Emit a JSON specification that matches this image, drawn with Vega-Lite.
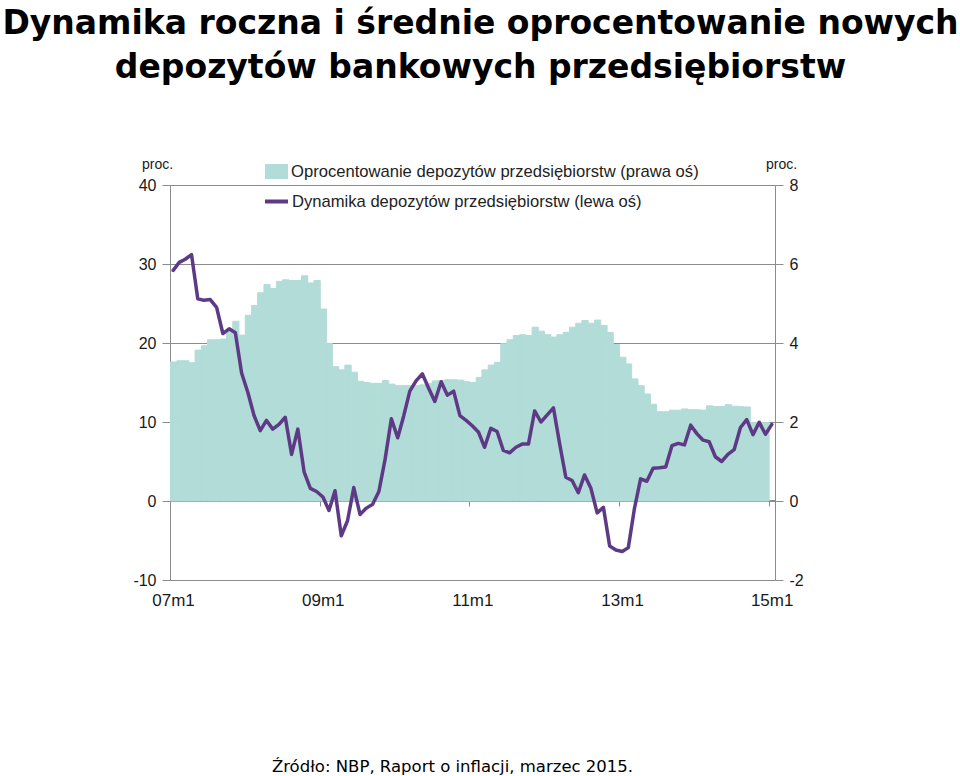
{
  "$schema": "https://vega.github.io/schema/vega-lite/v6.json",
  "width": 605,
  "height": 395,
  "autosize": {"type": "none"},
  "padding": {"left": 170, "top": 185, "right": 185, "bottom": 196},
  "background": "white",
  "title": {
    "text": ["Dynamika roczna i średnie oprocentowanie nowych", "depozytów bankowych przedsiębiorstw"],
    "font": "DejaVu Sans",
    "fontWeight": "bold",
    "fontSize": 33,
    "lineHeight": 44,
    "anchor": "middle",
    "frame": "group",
    "dx": 8,
    "offset": 72,
    "color": "#000000"
  },
  "config": {
    "view": {"stroke": null},
    "legend": {"labelFont": "Liberation Sans", "labelFontSize": 16.6, "labelColor": "#222222", "labelLimit": 600}
  },
  "data": {
    "values": [
      {"d": "2007-01-01", "rate": 3.52, "dyn": 29.2},
      {"d": "2007-02-01", "rate": 3.55, "dyn": 30.2},
      {"d": "2007-03-01", "rate": 3.55, "dyn": 30.6},
      {"d": "2007-04-01", "rate": 3.50, "dyn": 31.2},
      {"d": "2007-05-01", "rate": 3.82, "dyn": 25.6},
      {"d": "2007-06-01", "rate": 3.93, "dyn": 25.4},
      {"d": "2007-07-01", "rate": 4.08, "dyn": 25.5},
      {"d": "2007-08-01", "rate": 4.08, "dyn": 24.5},
      {"d": "2007-09-01", "rate": 4.10, "dyn": 21.2},
      {"d": "2007-10-01", "rate": 4.33, "dyn": 21.8},
      {"d": "2007-11-01", "rate": 4.55, "dyn": 21.3},
      {"d": "2007-12-01", "rate": 4.20, "dyn": 16.2},
      {"d": "2008-01-01", "rate": 4.70, "dyn": 13.7},
      {"d": "2008-02-01", "rate": 4.95, "dyn": 10.8},
      {"d": "2008-03-01", "rate": 5.27, "dyn": 8.9},
      {"d": "2008-04-01", "rate": 5.48, "dyn": 10.2},
      {"d": "2008-05-01", "rate": 5.38, "dyn": 9.1},
      {"d": "2008-06-01", "rate": 5.56, "dyn": 9.7},
      {"d": "2008-07-01", "rate": 5.60, "dyn": 10.6},
      {"d": "2008-08-01", "rate": 5.58, "dyn": 5.9},
      {"d": "2008-09-01", "rate": 5.58, "dyn": 9.1},
      {"d": "2008-10-01", "rate": 5.70, "dyn": 3.7},
      {"d": "2008-11-01", "rate": 5.52, "dyn": 1.6},
      {"d": "2008-12-01", "rate": 5.58, "dyn": 1.2},
      {"d": "2009-01-01", "rate": 4.86, "dyn": 0.5},
      {"d": "2009-02-01", "rate": 3.99, "dyn": -1.2},
      {"d": "2009-03-01", "rate": 3.40, "dyn": 1.3},
      {"d": "2009-04-01", "rate": 3.32, "dyn": -4.4},
      {"d": "2009-05-01", "rate": 3.44, "dyn": -2.5},
      {"d": "2009-06-01", "rate": 3.26, "dyn": 1.7},
      {"d": "2009-07-01", "rate": 3.03, "dyn": -1.7},
      {"d": "2009-08-01", "rate": 3.00, "dyn": -0.9},
      {"d": "2009-09-01", "rate": 2.98, "dyn": -0.4},
      {"d": "2009-10-01", "rate": 2.98, "dyn": 1.2},
      {"d": "2009-11-01", "rate": 3.05, "dyn": 5.3},
      {"d": "2009-12-01", "rate": 2.96, "dyn": 10.4},
      {"d": "2010-01-01", "rate": 2.92, "dyn": 8.0},
      {"d": "2010-02-01", "rate": 2.92, "dyn": 10.8},
      {"d": "2010-03-01", "rate": 2.92, "dyn": 13.9},
      {"d": "2010-04-01", "rate": 2.92, "dyn": 15.2},
      {"d": "2010-05-01", "rate": 2.94, "dyn": 16.1},
      {"d": "2010-06-01", "rate": 2.97, "dyn": 14.3},
      {"d": "2010-07-01", "rate": 3.04, "dyn": 12.6},
      {"d": "2010-08-01", "rate": 3.05, "dyn": 15.1},
      {"d": "2010-09-01", "rate": 3.07, "dyn": 13.4},
      {"d": "2010-10-01", "rate": 3.07, "dyn": 13.9},
      {"d": "2010-11-01", "rate": 3.06, "dyn": 10.8},
      {"d": "2010-12-01", "rate": 3.02, "dyn": 10.2},
      {"d": "2011-01-01", "rate": 3.00, "dyn": 9.5},
      {"d": "2011-02-01", "rate": 3.13, "dyn": 8.7},
      {"d": "2011-03-01", "rate": 3.32, "dyn": 6.8},
      {"d": "2011-04-01", "rate": 3.44, "dyn": 9.2},
      {"d": "2011-05-01", "rate": 3.51, "dyn": 8.8},
      {"d": "2011-06-01", "rate": 3.98, "dyn": 6.4},
      {"d": "2011-07-01", "rate": 4.08, "dyn": 6.1},
      {"d": "2011-08-01", "rate": 4.19, "dyn": 6.8},
      {"d": "2011-09-01", "rate": 4.21, "dyn": 7.2},
      {"d": "2011-10-01", "rate": 4.19, "dyn": 7.2},
      {"d": "2011-11-01", "rate": 4.40, "dyn": 11.4},
      {"d": "2011-12-01", "rate": 4.30, "dyn": 10.0},
      {"d": "2012-01-01", "rate": 4.21, "dyn": 10.9},
      {"d": "2012-02-01", "rate": 4.15, "dyn": 11.8},
      {"d": "2012-03-01", "rate": 4.21, "dyn": 7.3},
      {"d": "2012-04-01", "rate": 4.27, "dyn": 3.0},
      {"d": "2012-05-01", "rate": 4.40, "dyn": 2.6},
      {"d": "2012-06-01", "rate": 4.50, "dyn": 1.05},
      {"d": "2012-07-01", "rate": 4.57, "dyn": 3.3},
      {"d": "2012-08-01", "rate": 4.50, "dyn": 1.6},
      {"d": "2012-09-01", "rate": 4.58, "dyn": -1.5},
      {"d": "2012-10-01", "rate": 4.44, "dyn": -0.8},
      {"d": "2012-11-01", "rate": 4.27, "dyn": -5.7},
      {"d": "2012-12-01", "rate": 3.96, "dyn": -6.2},
      {"d": "2013-01-01", "rate": 3.64, "dyn": -6.4},
      {"d": "2013-02-01", "rate": 3.47, "dyn": -5.9},
      {"d": "2013-03-01", "rate": 3.09, "dyn": -1.0},
      {"d": "2013-04-01", "rate": 2.92, "dyn": 2.8},
      {"d": "2013-05-01", "rate": 2.71, "dyn": 2.5},
      {"d": "2013-06-01", "rate": 2.45, "dyn": 4.15},
      {"d": "2013-07-01", "rate": 2.26, "dyn": 4.2},
      {"d": "2013-08-01", "rate": 2.26, "dyn": 4.3},
      {"d": "2013-09-01", "rate": 2.30, "dyn": 7.0},
      {"d": "2013-10-01", "rate": 2.30, "dyn": 7.3},
      {"d": "2013-11-01", "rate": 2.33, "dyn": 7.1},
      {"d": "2013-12-01", "rate": 2.31, "dyn": 9.6},
      {"d": "2014-01-01", "rate": 2.31, "dyn": 8.5},
      {"d": "2014-02-01", "rate": 2.30, "dyn": 7.7},
      {"d": "2014-03-01", "rate": 2.41, "dyn": 7.5},
      {"d": "2014-04-01", "rate": 2.39, "dyn": 5.6},
      {"d": "2014-05-01", "rate": 2.39, "dyn": 5.0},
      {"d": "2014-06-01", "rate": 2.44, "dyn": 5.9},
      {"d": "2014-07-01", "rate": 2.40, "dyn": 6.5},
      {"d": "2014-08-01", "rate": 2.39, "dyn": 9.3},
      {"d": "2014-09-01", "rate": 2.38, "dyn": 10.3},
      {"d": "2014-10-01", "rate": 1.99, "dyn": 8.4},
      {"d": "2014-11-01", "rate": 1.99, "dyn": 9.95},
      {"d": "2014-12-01", "rate": 1.99, "dyn": 8.45},
      {"d": "2015-01-01", "dyn": 9.7}
    ]
  },
  "layer": [
    {
      "mark": {"type": "bar", "binSpacing": 0, "stroke": "#b2dcd7", "strokeWidth": 1},
      "encoding": {
        "x": {
          "field": "d",
          "timeUnit": "utcyearmonth",
          "type": "temporal",
          "scale": {"domain": [{"year": 2007, "month": 1, "date": 1, "utc": true}, {"year": 2015, "month": 2, "date": 1, "utc": true}]},
          "axis": {
            "orient": "bottom",
            "offset": -80,
            "values": [
              {"year": 2007, "month": 1, "date": 1, "utc": true},
              {"year": 2009, "month": 1, "date": 1, "utc": true},
              {"year": 2011, "month": 1, "date": 1, "utc": true},
              {"year": 2013, "month": 1, "date": 1, "utc": true},
              {"year": 2015, "month": 1, "date": 1, "utc": true}
            ],
            "labelExpr": "utcFormat(datum.value, '%y') + 'm' + (utcmonth(datum.value) + 1)",
            "grid": false,
            "domain": true,
            "domainColor": "#8c8c8c",
            "ticks": true,
            "tickColor": "#8c8c8c",
            "tickSize": 6,
            "labelPadding": 86,
            "labelOffset": 3,
            "labelFlush": false,
            "labelOverlap": false,
            "labelFont": "Liberation Sans",
            "labelFontSize": 17,
            "labelColor": "#1a1a1a",
            "title": "Źródło: NBP, Raport o inflacji, marzec 2015.",
            "titleFont": "DejaVu Sans",
            "titleFontSize": 16.5,
            "titleFontWeight": "normal",
            "titleColor": "#000000",
            "titleAlign": "center",
            "titleBaseline": "alphabetic",
            "titleX": 282,
            "titleY": 271
          }
        },
        "y": {
          "field": "rate",
          "type": "quantitative",
          "scale": {"domain": [-2, 8], "nice": false, "zero": false},
          "axis": {
            "orient": "right",
            "values": [-2, 0, 2, 4, 6, 8],
            "labelExpr": "replace(datum.label, '−', '-')",
            "grid": false,
            "domainColor": "#8c8c8c",
            "tickColor": "#8c8c8c",
            "tickSize": 8,
            "labelPadding": 6,
            "labelFont": "Liberation Sans",
            "labelFontSize": 16,
            "labelColor": "#1a1a1a",
            "title": "proc.",
            "titleAngle": 0,
            "titleX": 6,
            "titleY": -17,
            "titleAlign": "center",
            "titleBaseline": "alphabetic",
            "titleFont": "Liberation Sans",
            "titleFontSize": 14,
            "titleFontWeight": "normal",
            "titleColor": "#1a1a1a"
          }
        },
        "fill": {
          "datum": "Oprocentowanie depozytów przedsiębiorstw (prawa oś)",
          "type": "nominal",
          "scale": {"range": ["#b2dcd7"]},
          "legend": {
            "orient": "none",
            "legendX": 95,
            "legendY": -25,
            "title": null,
            "symbolType": "M-1,-0.65H1V0.65H-1Z",
            "symbolSize": 529,
            "symbolStrokeWidth": 0,
            "labelOffset": 3
          }
        }
      }
    },
    {
      "mark": {"type": "line", "strokeWidth": 3.5, "strokeJoin": "round", "strokeCap": "round"},
      "encoding": {
        "x": {"field": "d", "timeUnit": "utcyearmonth", "type": "temporal", "bandPosition": 0.5},
        "y": {
          "field": "dyn",
          "type": "quantitative",
          "scale": {"domain": [-10, 40], "nice": false, "zero": false},
          "axis": {
            "orient": "left",
            "values": [-10, 0, 10, 20, 30, 40],
            "labelExpr": "replace(datum.label, '−', '-')",
            "grid": true,
            "gridColor": "#8c8c8c",
            "gridWidth": 1,
            "gridOpacity": 1,
            "domainColor": "#8c8c8c",
            "tickColor": "#8c8c8c",
            "tickSize": 8,
            "labelPadding": 6,
            "labelFont": "Liberation Sans",
            "labelFontSize": 16,
            "labelColor": "#1a1a1a",
            "title": "proc.",
            "titleAngle": 0,
            "titleX": -13,
            "titleY": -17,
            "titleAlign": "center",
            "titleBaseline": "alphabetic",
            "titleFont": "Liberation Sans",
            "titleFontSize": 14,
            "titleFontWeight": "normal",
            "titleColor": "#1a1a1a"
          }
        },
        "stroke": {
          "datum": "Dynamika depozytów przedsiębiorstw (lewa oś)",
          "type": "nominal",
          "scale": {"range": ["#5e3a86"]},
          "legend": {
            "orient": "none",
            "legendX": 93,
            "legendY": 3,
            "title": null,
            "symbolType": "stroke",
            "symbolSize": 529,
            "symbolStrokeWidth": 4,
            "labelOffset": 2
          }
        }
      }
    }
  ],
  "resolve": {"scale": {"y": "independent", "fill": "independent", "stroke": "independent"}}
}
